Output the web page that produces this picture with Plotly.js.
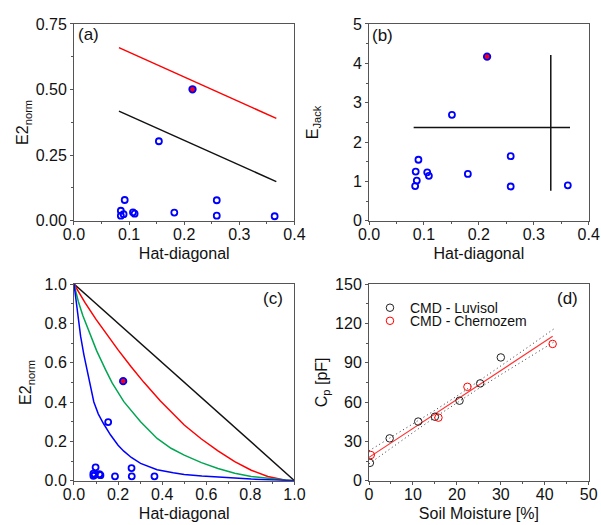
<!DOCTYPE html>
<html>
<head>
<meta charset="utf-8">
<script src="https://cdn.plot.ly/plotly-3.0.1.min.js"></script>
<style>html,body{margin:0;padding:0;background:#fff;}#chart{width:601px;height:525px;}</style>
</head>
<body>
<div id="chart"></div>
<script>
// ---- Panel (a): E2norm vs hat-diagonal ----
const hatA = [0.085, 0.085, 0.090, 0.092, 0.107, 0.110, 0.154, 0.182, 0.259, 0.259, 0.364];
const e2A  = [0.038, 0.019, 0.025, 0.079, 0.032, 0.027, 0.303, 0.031, 0.078, 0.019, 0.017];
const hatAOut = [0.215];
const e2AOut  = [0.501];
const limXA   = [0.0815, 0.367];
const redLimA = [0.660, 0.390];
const blkLimA = [0.418, 0.149];

// ---- Panel (b): EJack vs hat-diagonal ----
const hatB = [0.085, 0.087, 0.084, 0.090, 0.106, 0.109, 0.151, 0.180, 0.258, 0.258, 0.362];
const ejB  = [1.25, 1.02, 0.88, 1.55, 1.23, 1.14, 2.69, 1.19, 1.64, 0.87, 0.90];
const hatBOut = [0.215];
const ejBOut  = [4.17];
const hLineX = [0.0813, 0.366];
const hLineY = [2.37, 2.37];
const vLineX = [0.331, 0.331];
const vLineY = [0.76, 4.21];

// ---- Panel (c): E2norm vs hat-diagonal, full range ----
const hatC = [0.088, 0.088, 0.094, 0.098, 0.115, 0.120, 0.155, 0.186, 0.261, 0.262, 0.365];
const e2C  = [0.036, 0.025, 0.030, 0.068, 0.033, 0.028, 0.298, 0.022, 0.064, 0.022, 0.022];
const hatCOut = [0.223];
const e2COut  = [0.506];
const blackCx = [0, 1];
const blackCy = [1, 0];
const redCx = [0, 0.05, 0.10, 0.15, 0.20, 0.26, 0.317, 0.392, 0.452, 0.50, 0.578, 0.653, 0.729, 0.804, 0.879, 0.925, 0.96, 1.0];
const redCy = [1, 0.905, 0.820, 0.740, 0.665, 0.578, 0.500, 0.405, 0.335, 0.283, 0.212, 0.152, 0.097, 0.053, 0.021, 0.008, 0.002, 0];
const greenCx = [0, 0.02, 0.04, 0.06, 0.08, 0.103, 0.143, 0.173, 0.226, 0.302, 0.377, 0.44, 0.50, 0.578, 0.653, 0.729, 0.804, 0.88, 0.955, 1.0];
const greenCy = [1, 0.91, 0.84, 0.78, 0.72, 0.66, 0.565, 0.497, 0.402, 0.300, 0.215, 0.165, 0.130, 0.092, 0.062, 0.038, 0.021, 0.010, 0.003, 0];
const blueCx = [0, 0.010, 0.020, 0.030, 0.045, 0.060, 0.071, 0.090, 0.110, 0.133, 0.166, 0.200, 0.226, 0.260, 0.302, 0.377, 0.450, 0.500, 0.580, 0.653, 0.730, 0.804, 0.880, 0.955, 1.0];
const blueCy = [1, 0.905, 0.815, 0.735, 0.640, 0.555, 0.497, 0.400, 0.340, 0.292, 0.232, 0.180, 0.150, 0.118, 0.088, 0.056, 0.040, 0.032, 0.024, 0.018, 0.012, 0.008, 0.005, 0.003, 0];

// ---- Panel (d): Cp vs soil moisture ----
const luvX = [0.2, 4.7, 11.2, 15.0, 20.6, 25.3, 30.0];
const luvY = [13.6, 32.3, 45.1, 48.8, 61.0, 74.2, 94.0];
const cheX = [0.4, 15.8, 22.4, 41.8];
const cheY = [19.6, 48.1, 71.6, 104.3];
const fitX = [0, 41.8];
const fitY = [17.8, 110.1];
const bandX = [0, 5, 10, 15, 20, 25, 30, 35, 42];
const bandUp = [22.8, 32.9, 43.1, 53.7, 64.5, 75.8, 87.3, 99.1, 115.6];
const bandLo = [12.8, 24.9, 36.7, 48.3, 59.5, 70.4, 80.9, 91.3, 105.6];

const FONT = 'Liberation Sans, Arial, sans-serif';
const BLUE = '#0000ff';
const openBlue = {symbol: 'circle-open', size: 6, color: BLUE, line: {width: 1.8, color: BLUE}};
const filledRed = {symbol: 'circle', size: 6.5, color: '#ff0000', line: {width: 1.8, color: BLUE}};

function pts(x, y, xa, ya, marker) {
  return {x: x, y: y, xaxis: xa, yaxis: ya, type: 'scatter', mode: 'markers', marker: marker, showlegend: false, hoverinfo: 'skip'};
}
function line(x, y, xa, ya, color, width, dash) {
  return {x: x, y: y, xaxis: xa, yaxis: ya, type: 'scatter', mode: 'lines', line: {color: color, width: width, dash: dash || 'solid'}, showlegend: false, hoverinfo: 'skip'};
}

const data = [
  line(limXA, redLimA, 'x', 'y', '#ff0000', 1.5),
  line(limXA, blkLimA, 'x', 'y', '#111111', 1.5),
  pts(hatA, e2A, 'x', 'y', openBlue),
  pts(hatAOut, e2AOut, 'x', 'y', filledRed),

  line(hLineX, hLineY, 'x2', 'y2', '#111111', 1.5),
  line(vLineX, vLineY, 'x2', 'y2', '#111111', 1.5),
  pts(hatB, ejB, 'x2', 'y2', openBlue),
  pts(hatBOut, ejBOut, 'x2', 'y2', filledRed),

  line(blackCx, blackCy, 'x3', 'y3', '#111111', 1.5),
  line(redCx, redCy, 'x3', 'y3', '#ff0000', 1.5),
  line(greenCx, greenCy, 'x3', 'y3', '#00a651', 1.5),
  line(blueCx, blueCy, 'x3', 'y3', BLUE, 1.5),
  pts(hatC, e2C, 'x3', 'y3', openBlue),
  pts(hatCOut, e2COut, 'x3', 'y3', filledRed),

  line(bandX, bandUp, 'x4', 'y4', '#333333', 1, '1px,3px'),
  line(bandX, bandLo, 'x4', 'y4', '#333333', 1, '1px,3px'),
  line(fitX, fitY, 'x4', 'y4', '#ff3333', 1.2),
  {x: luvX, y: luvY, xaxis: 'x4', yaxis: 'y4', type: 'scatter', mode: 'markers', name: 'CMD - Luvisol', legend: 'legend',
   marker: {symbol: 'circle-open', size: 7.5, color: '#222222', line: {width: 1, color: '#222222'}}, hoverinfo: 'skip'},
  {x: cheX, y: cheY, xaxis: 'x4', yaxis: 'y4', type: 'scatter', mode: 'markers', name: 'CMD - Chernozem', legend: 'legend2',
   marker: {symbol: 'circle-open', size: 7.5, color: '#ff0000', line: {width: 1, color: '#ff0000'}}, hoverinfo: 'skip'}
];

function ax(extra) {
  return Object.assign({
    showline: true, mirror: true, linecolor: '#555555', linewidth: 1,
    ticks: 'outside', ticklen: 3, tickcolor: '#555555', tickwidth: 1,
    showgrid: false, zeroline: false, fixedrange: true,
    tickfont: {family: FONT, size: 16, color: '#111111'}
  }, extra);
}
function ttl(text, standoff) {
  const t = {text: text, font: {family: FONT, size: 16, color: '#111111'}};
  if (standoff !== undefined) t.standoff = standoff;
  return t;
}
function minor(d) { return {ticks: 'outside', ticklen: 2, dtick: d, tickcolor: '#555555', showgrid: false}; }

const xdL = [0.1231, 0.4900];
const xdR = [0.6140, 0.9795];
const ydT = [0.5796, 0.9543];
const ydB = [0.0844, 0.4590];
const legFont = {family: FONT, size: 14, color: '#111111'};

const layout = {
  width: 601, height: 525,
  margin: {l: 0, r: 0, t: 0, b: 0},
  paper_bgcolor: '#ffffff', plot_bgcolor: '#ffffff',
  font: {family: FONT, size: 16, color: '#111111'},
  xaxis: ax({domain: xdL, anchor: 'y', range: [0, 0.4], dtick: 0.1, tickformat: '.1f', ticklabelstandoff: -4, minor: minor(0.05), title: ttl('Hat-diagonal', 5)}),
  yaxis: ax({domain: ydT, anchor: 'x', range: [0, 0.75], dtick: 0.25, tickformat: '.2f', minor: minor(0.125), title: ttl('E2<sub>norm</sub>')}),
  xaxis2: ax({domain: xdR, anchor: 'y2', range: [0, 0.4], dtick: 0.1, tickformat: '.1f', ticklabelstandoff: -4, minor: minor(0.05), title: ttl('Hat-diagonal', 5)}),
  yaxis2: ax({domain: ydT, anchor: 'x2', range: [0, 5], dtick: 1, minor: minor(0.5), title: ttl('E<sub>Jack</sub>', 30)}),
  xaxis3: ax({domain: xdL, anchor: 'y3', range: [0, 1], dtick: 0.2, tickformat: '.1f', ticklabelstandoff: -4, minor: minor(0.1), title: ttl('Hat-diagonal', 5)}),
  yaxis3: ax({domain: ydB, anchor: 'x3', range: [0, 1], dtick: 0.2, tickformat: '.1f', minor: minor(0.1), title: ttl('E2<sub>norm</sub>', 8)}),
  xaxis4: ax({domain: xdR, anchor: 'y4', range: [0, 50], dtick: 10, ticklabelstandoff: -4, minor: minor(5), title: ttl('Soil Moisture [%]', 5)}),
  yaxis4: ax({domain: ydB, anchor: 'x4', range: [0, 150], dtick: 30, minor: minor(15), title: ttl('C<sub>p</sub> [pF]')}),
  showlegend: true,
  legend: {x: 0.6156, y: 0.4436, xanchor: 'left', yanchor: 'top', bgcolor: 'rgba(0,0,0,0)', font: legFont},
  legend2: {x: 0.6156, y: 0.4187, xanchor: 'left', yanchor: 'top', bgcolor: 'rgba(0,0,0,0)', font: legFont},
  annotations: [
    {text: '(a)', x: 0.126, y: 0.935, xref: 'paper', yref: 'paper', xanchor: 'left', yanchor: 'middle', showarrow: false, font: {family: FONT, size: 17, color: '#111111'}},
    {text: '(b)', x: 0.615, y: 0.933, xref: 'paper', yref: 'paper', xanchor: 'left', yanchor: 'middle', showarrow: false, font: {family: FONT, size: 17, color: '#111111'}},
    {text: '(c)', x: 0.474, y: 0.431, xref: 'paper', yref: 'paper', xanchor: 'right', yanchor: 'middle', showarrow: false, font: {family: FONT, size: 17, color: '#111111'}},
    {text: '(d)', x: 0.965, y: 0.431, xref: 'paper', yref: 'paper', xanchor: 'right', yanchor: 'middle', showarrow: false, font: {family: FONT, size: 17, color: '#111111'}}
  ]
};

Plotly.newPlot('chart', data, layout, {displayModeBar: false, staticPlot: true});
</script>
</body>
</html>
